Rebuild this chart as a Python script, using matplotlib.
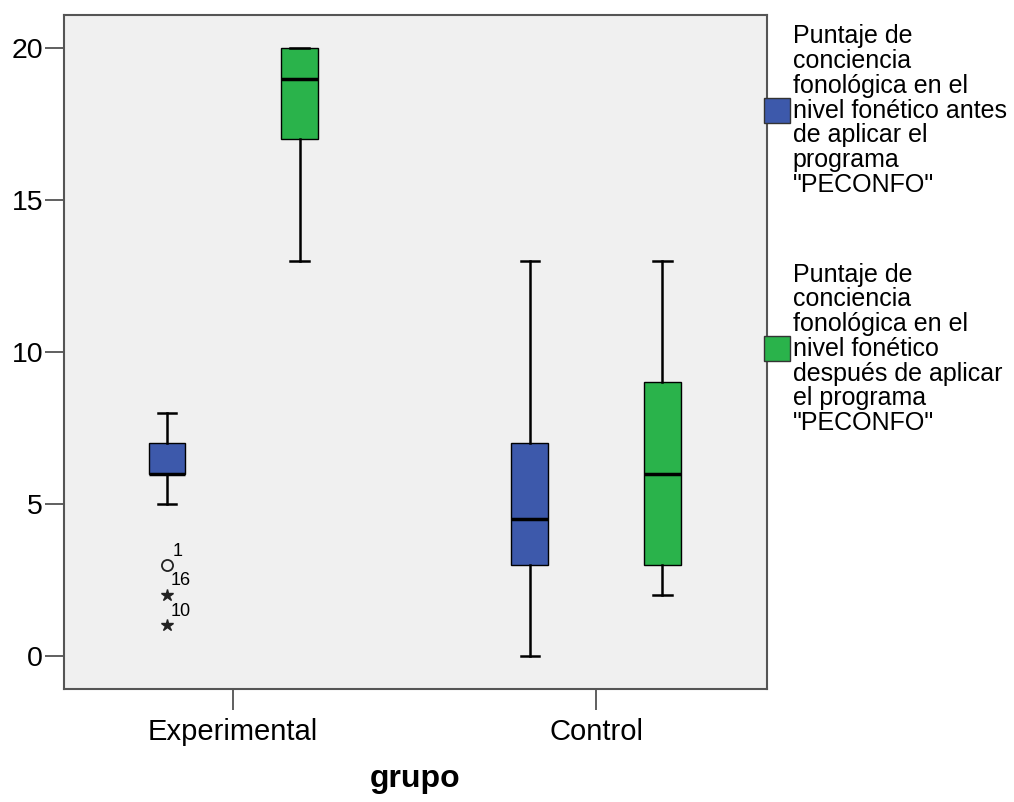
import matplotlib
matplotlib.use("Agg")
from matplotlib import pyplot as plt
from matplotlib.patches import Rectangle

plt.rcParams['font.family'] = ['Liberation Sans', 'DejaVu Sans']

# datos de las cajas (grupo, antes/despues)
grupos = ["Experimental", "Control"]
series = ["antes", "despues"]
# [antes, despues] para cada grupo
q1 = [[6, 17], [3, 3]]
mediana = [[6, 19], [4.5, 6]]
q3 = [[7, 20], [7, 9]]
bigote_inf = [[5, 13], [0, 2]]
bigote_sup = [[8, 20], [13, 13]]

# valores atipicos (grupo Experimental, antes)
atipicos_val = [3]
atipicos_id = ["1"]
extremos_val = [2, 1]
extremos_id = ["16", "10"]

colores = ["#3D59AB", "#2AB34B"]
leyenda = ['Puntaje de\nconciencia\nfonológica en el\nnivel fonético antes\nde aplicar el\nprograma\n"PECONFO"',
           'Puntaje de\nconciencia\nfonológica en el\nnivel fonético\ndespués de aplicar\nel programa\n"PECONFO"']

fig = plt.figure(figsize=(10.14, 8.02), dpi=100)
ax = fig.add_axes([0.0631, 0.1409, 0.6933, 0.8404])
ax.set_facecolor("#F0F0F0")

offset = 0.183
for gi, g in enumerate(grupos):
    for si in range(len(series)):
        st = [dict(med=mediana[gi][si], q1=q1[gi][si], q3=q3[gi][si],
                   whislo=bigote_inf[gi][si], whishi=bigote_sup[gi][si], fliers=[])]
        pos = gi + (offset if si == 1 else -offset)
        ax.bxp(st, positions=[pos], widths=0.1, patch_artist=True, showfliers=False,
               boxprops=dict(facecolor=colores[si], edgecolor="black", linewidth=1),
               medianprops=dict(color="black", linewidth=2.5),
               whiskerprops=dict(color="black", linewidth=1.8),
               capprops=dict(color="black", linewidth=1.8),
               capwidths=0.05)

pos_exp = 0 - offset
ax.plot([pos_exp] * len(atipicos_val), atipicos_val, 'o', mfc='none', mec='#222222',
        ms=8, mew=1.3)
ax.plot([pos_exp] * len(extremos_val), extremos_val, '*', color='#222222', ms=9)
for v, t in zip(atipicos_val, atipicos_id):
    ax.annotate(t, (pos_exp, v), xytext=(4, 6), textcoords='offset points', fontsize=13)
for v, t in zip(extremos_val, extremos_id):
    ax.annotate(t, (pos_exp, v), xytext=(3, 7), textcoords='offset points', fontsize=13)

ax.set_xlim(-0.466, 1.471)
ax.set_ylim(-1.09, 21.09)
ax.set_xticks(range(len(grupos)))
ax.set_xticklabels(grupos)
ax.set_yticks([0, 5, 10, 15, 20])
ax.tick_params(axis='y', labelsize=20.5, length=14, width=1.2, color='#444444', pad=1)
ax.tick_params(axis='x', labelsize=21, length=15, width=1.2, color='#444444', pad=6)
for s in ax.spines.values():
    s.set_color('#555555')
    s.set_linewidth(1.5)
ax.set_xlabel("grupo", fontsize=23, fontweight='bold', labelpad=13)

# leyenda a la derecha
ley_y = [0.862, 0.565]
for i, txt in enumerate(leyenda):
    fig.patches.append(Rectangle((0.7535, ley_y[i] - 0.0155), 0.026, 0.031,
                                 transform=fig.transFigure, facecolor=colores[i],
                                 edgecolor='#333333', linewidth=1))
    fig.text(0.782, ley_y[i], txt, fontsize=18, va='center', ha='left', linespacing=1.04)

fig.savefig("out.png", dpi=100)
